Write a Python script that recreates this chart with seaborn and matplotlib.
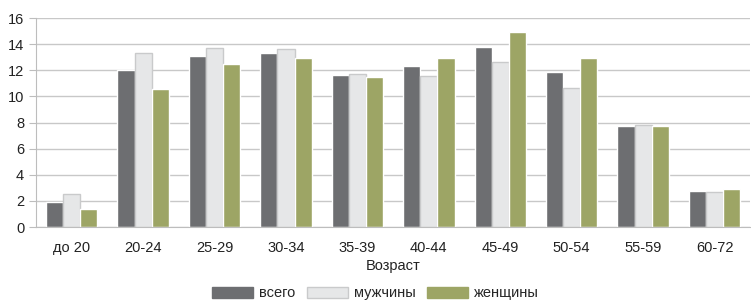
import pandas as pd
import matplotlib.pyplot as plt
import seaborn as sns
from matplotlib import font_manager
from matplotlib.ticker import FixedLocator

# данные
ages = ["до 20", "20-24", "25-29", "30-34", "35-39", "40-44", "45-49", "50-54", "55-59", "60-72"]
total = [1.95, 12.0, 13.1, 13.35, 11.65, 12.35, 13.8, 11.85, 7.75, 2.8]
men = [2.5, 13.3, 13.7, 13.6, 11.75, 11.6, 12.6, 10.65, 7.85, 2.65]
women = [1.4, 10.55, 12.5, 12.95, 11.5, 12.95, 14.95, 12.95, 7.75, 2.95]
series = ["всего", "мужчины", "женщины"]
colors = ["#6d6e71", "#e6e7e8", "#9da565"]

df = pd.DataFrame({"Возраст": ages * 3,
                   "value": total + men + women,
                   "series": [s for s in series for _ in ages]})

sns.set_style("white")
names = {f.name for f in font_manager.fontManager.ttflist}
fam = ["Liberation Sans Narrow"] if "Liberation Sans Narrow" in names else []
plt.rcParams["font.family"] = fam + ["Liberation Sans", "DejaVu Sans"]

fig, ax = plt.subplots(figsize=(7.51, 3.0), dpi=100)
fig.subplots_adjust(left=0.048, right=0.999, top=0.94, bottom=0.243)

sns.barplot(data=df, x="Возраст", y="value", hue="series", palette=colors,
            width=0.72, ax=ax, legend=False, saturation=1)

# светлые столбцы с серой обводкой
for p in ax.containers[1]:
    p.set_edgecolor("#c9cacb")
    p.set_linewidth(1.0)

ax.set_ylim(0, 16)
ax.set_yticks(range(0, 17, 2))
ax.set_xlim(-0.5, len(ages) - 0.5)
ax.yaxis.grid(True, color="#c8c8c8", linewidth=1)
ax.set_axisbelow(True)

for s in ["top", "right"]:
    ax.spines[s].set_visible(False)
ax.spines["left"].set_color("#bdbdbd")
ax.spines["bottom"].set_color("#bdbdbd")

ax.tick_params(axis="x", which="major", length=0, pad=10, labelsize=10.5, colors="#222222")
ax.xaxis.set_minor_locator(FixedLocator([i - 0.5 for i in range(len(ages) + 1)]))
ax.tick_params(axis="x", which="minor", length=5, color="#bdbdbd", direction="out")
ax.tick_params(axis="y", length=5, color="#bdbdbd", left=True, labelsize=10.5, colors="#222222")

ax.set_xlabel("Возраст", fontsize=10.5, color="#222222", labelpad=3)
ax.set_ylabel("")

handles = [plt.Rectangle((0, 0), 1, 1, facecolor=c,
                         edgecolor="#c9cacb" if i == 1 else c)
           for i, c in enumerate(colors)]
fig.legend(handles, series, loc="lower center", ncol=3, frameon=False,
           bbox_to_anchor=(0.5, -0.045), fontsize=10.5, handlelength=2.8,
           handleheight=0.8, columnspacing=0.8, handletextpad=0.4)

fig.savefig("out.png", dpi=100)
